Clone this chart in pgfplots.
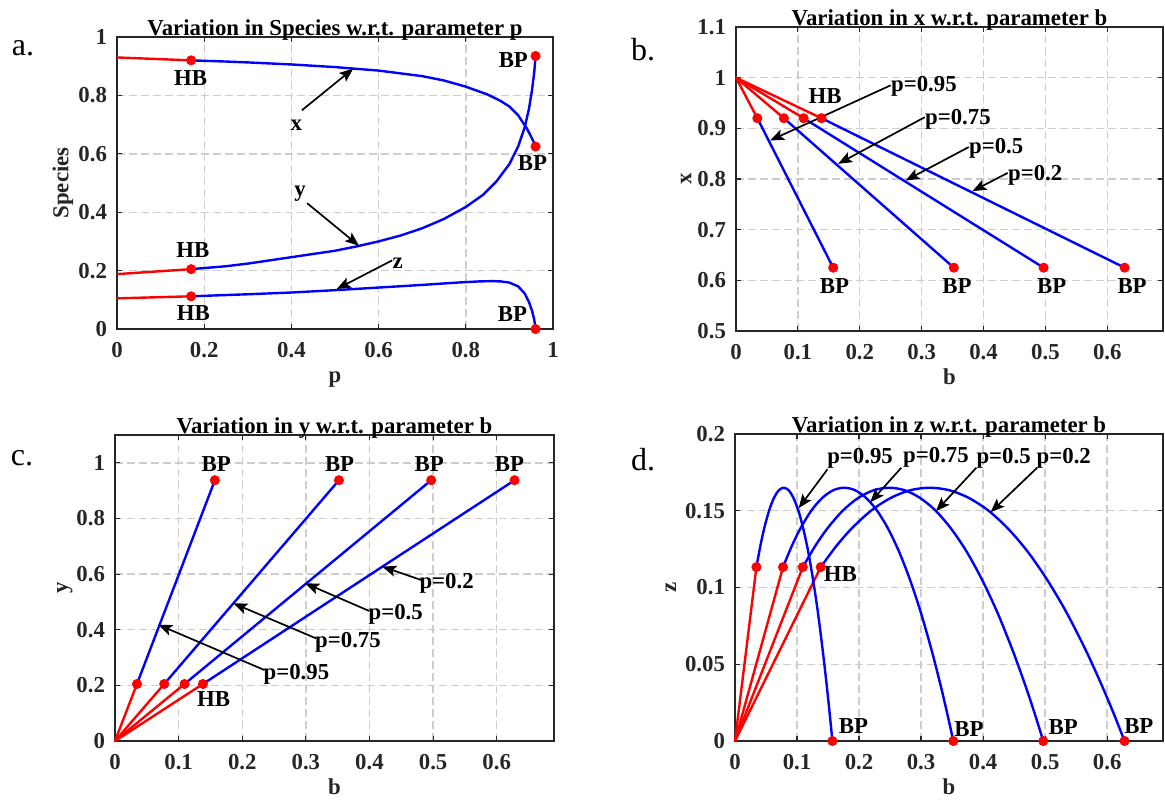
\documentclass[border=0pt]{standalone}
\usepackage{fontspec}
\setmainfont{Liberation Serif}
\usepackage{pgfplots}
\pgfplotsset{compat=1.18}
\usetikzlibrary{arrows.meta}

\definecolor{axgray}{RGB}{38,38,38}
\definecolor{gridgray}{RGB}{205,205,205}
\definecolor{mblue}{RGB}{0,0,255}
\definecolor{mred}{RGB}{255,0,0}

\newcommand{\fs}{\fontsize{11.4}{13}\selectfont\bfseries}

\pgfplotsset{
  matstyle/.style={
    scale only axis, clip=false,
    axis line style={line width=1.1pt, axgray},
    tick style={line width=0.6pt, axgray},
    major tick length=2.5pt,
    tick align=inside,
    xtick pos=both, ytick pos=both,
    grid=major,
    major grid style={line width=0.7pt, gridgray, dash pattern=on 4pt off 2pt},
    scaled ticks=false,
    tick label style={font=\fs, text=axgray, /pgf/number format/fixed},
    xticklabel style={yshift=-3pt},
    yticklabel style={xshift=-1.5pt},
    label style={font=\fs, text=axgray},
    xlabel style={at={(axis description cs:0.5,0)}, anchor=base, yshift=-26.5pt},
    every axis title shift=0pt,
    title style={font=\fs, at={(axis description cs:0.5,1)}, anchor=base, yshift=1pt},
    /pgf/number format/assume math mode=true,
  },
  bl/.style={mblue, line width=1.2pt, no marks},
  rd/.style={mred, line width=1.2pt, no marks},
  pts/.style={only marks, mark=*, mark size=2.3pt, mark options={fill=mred, draw=mred}},
}
\tikzset{
  arr/.style={-{Stealth[length=7pt,width=5.5pt,inset=1.5pt]}, line width=0.85pt, black},
  lab/.style={font=\fs, inner sep=0pt, text=black},
}

\begin{document}
\begin{tikzpicture}
\useasboundingbox (0,0) rectangle (582.5pt,-399.5pt);

% ---------------- a ----------------
\begin{axis}[matstyle, at={(58.5pt,-164.5pt)}, anchor=south west,
  width=218pt, height=146pt,
  xmin=0, xmax=1, ymin=0, ymax=1,
  xtick={0,0.2,0.4,0.6,0.8,1}, ytick={0,0.2,0.4,0.6,0.8,1},
  title={Variation in Species w.r.t. parameter p},
  xlabel={p}, ylabel={Species},
  ylabel style={at={(axis description cs:-0.124,0.5)}, anchor=center}]
\addplot[rd] coordinates {(0,0.93)(0.17,0.92)};
\addplot[bl] coordinates {(0.17,0.92)(0.25,0.916)(0.3,0.913)(0.4,0.906)(0.5,0.897)(0.6,0.885)(0.7,0.866)(0.75,0.851)(0.8,0.83)(0.85,0.803)(0.88,0.781)(0.9,0.762)(0.92,0.732)(0.94,0.687)(0.95,0.658)(0.955,0.643)(0.96,0.625)};
\addplot[rd] coordinates {(0,0.188)(0.17,0.205)};
\addplot[bl] coordinates {(0.17,0.205)(0.25,0.215)(0.3,0.224)(0.4,0.246)(0.5,0.268)(0.55,0.283)(0.6,0.3)(0.65,0.32)(0.7,0.345)(0.75,0.377)(0.8,0.418)(0.84,0.46)(0.87,0.505)(0.9,0.565)(0.92,0.625)(0.935,0.69)(0.945,0.755)(0.952,0.82)(0.957,0.88)(0.96,0.935)};
\addplot[rd] coordinates {(0,0.105)(0.17,0.112)};
\addplot[bl] coordinates {(0.17,0.112)(0.3,0.119)(0.4,0.125)(0.5,0.133)(0.6,0.142)(0.7,0.151)(0.78,0.159)(0.83,0.163)(0.86,0.164)(0.88,0.163)(0.9,0.159)(0.92,0.146)(0.935,0.122)(0.945,0.092)(0.952,0.062)(0.957,0.032)(0.96,0)};
\addplot[pts] coordinates {(0.17,0.92)(0.17,0.205)(0.17,0.112)(0.96,0.935)(0.96,0.625)(0.96,0)};
\node[lab] at (axis cs:0.169,0.861) {HB};
\node[lab] at (axis cs:0.174,0.269) {HB};
\node[lab] at (axis cs:0.175,0.055) {HB};
\node[lab] at (axis cs:0.909,0.922) {BP};
\node[lab] at (axis cs:0.953,0.568) {BP};
\node[lab] at (axis cs:0.907,0.051) {BP};
\node[lab] at (axis cs:0.411,0.698) {x};
\node[lab] at (axis cs:0.42,0.462) {y};
\node[lab] at (axis cs:0.644,0.226) {z};
\draw[arr] (axis cs:0.424,0.749) -- (axis cs:0.542,0.892);
\draw[arr] (axis cs:0.436,0.431) -- (axis cs:0.555,0.285);
\draw[arr] (axis cs:0.631,0.235) -- (axis cs:0.504,0.137);
\end{axis}

% ---------------- b ----------------
\begin{axis}[matstyle, at={(368pt,-165.5pt)}, anchor=south west,
  width=213.5pt, height=152pt,
  xmin=0, xmax=0.69, ymin=0.5, ymax=1.1,
  xtick={0,0.1,0.2,0.3,0.4,0.5,0.6}, ytick={0.5,0.6,0.7,0.8,0.9,1,1.1},
  title={Variation in x w.r.t. parameter b},
  xlabel={b}, ylabel={x},
  ylabel style={at={(axis description cs:-0.117,0.5)}, anchor=center}]
\addplot[rd] coordinates {(0,1)(0.0345,0.92)};
\addplot[rd] coordinates {(0,1)(0.0774,0.92)};
\addplot[rd] coordinates {(0,1)(0.1093,0.92)};
\addplot[rd] coordinates {(0,1)(0.1382,0.92)};
\addplot[bl] coordinates {(0.0345,0.92)(0.157,0.625)};
\addplot[bl] coordinates {(0.0774,0.92)(0.352,0.625)};
\addplot[bl] coordinates {(0.1093,0.92)(0.497,0.625)};
\addplot[bl] coordinates {(0.1382,0.92)(0.628,0.625)};
\addplot[pts] coordinates {(0.0345,0.92)(0.0774,0.92)(0.1093,0.92)(0.1382,0.92)(0.157,0.625)(0.352,0.625)(0.497,0.625)(0.628,0.625)};
\node[lab] at (axis cs:0.144,0.963) {HB};
\node[lab] at (axis cs:0.159,0.588) {BP};
\node[lab] at (axis cs:0.357,0.588) {BP};
\node[lab] at (axis cs:0.51,0.588) {BP};
\node[lab] at (axis cs:0.64,0.588) {BP};
\node[lab, anchor=west] at (axis cs:0.25,0.982) {p=0.95};
\node[lab, anchor=west] at (axis cs:0.305,0.918) {p=0.75};
\node[lab, anchor=west] at (axis cs:0.376,0.86) {p=0.5};
\node[lab, anchor=west] at (axis cs:0.439,0.808) {p=0.2};
\draw[arr] (axis cs:0.25,0.985) -- (axis cs:0.055,0.876);
\draw[arr] (axis cs:0.305,0.922) -- (axis cs:0.165,0.83);
\draw[arr] (axis cs:0.376,0.863) -- (axis cs:0.274,0.797);
\draw[arr] (axis cs:0.439,0.812) -- (axis cs:0.382,0.776);
\end{axis}

% ---------------- c ----------------
\begin{axis}[matstyle, at={(57.5pt,-370.5pt)}, anchor=south west,
  width=219.5pt, height=153pt,
  xmin=0, xmax=0.69, ymin=0, ymax=1.1,
  xtick={0,0.1,0.2,0.3,0.4,0.5,0.6}, ytick={0,0.2,0.4,0.6,0.8,1},
  title={Variation in y w.r.t. parameter b},
  xlabel={b}, ylabel={y},
  ylabel style={at={(axis description cs:-0.114,0.5)}, anchor=center}]
\addplot[rd] coordinates {(0,0)(0.0345,0.205)};
\addplot[rd] coordinates {(0,0)(0.0774,0.205)};
\addplot[rd] coordinates {(0,0)(0.1093,0.205)};
\addplot[rd] coordinates {(0,0)(0.1382,0.205)};
\addplot[bl] coordinates {(0.0345,0.205)(0.157,0.9375)};
\addplot[bl] coordinates {(0.0774,0.205)(0.352,0.9375)};
\addplot[bl] coordinates {(0.1093,0.205)(0.497,0.9375)};
\addplot[bl] coordinates {(0.1382,0.205)(0.628,0.9375)};
\addplot[pts] coordinates {(0.0345,0.205)(0.0774,0.205)(0.1093,0.205)(0.1382,0.205)(0.157,0.9375)(0.352,0.9375)(0.497,0.9375)(0.628,0.9375)};
\node[lab] at (axis cs:0.155,0.15) {HB};
\node[lab] at (axis cs:0.159,0.994) {BP};
\node[lab] at (axis cs:0.353,0.994) {BP};
\node[lab] at (axis cs:0.494,0.994) {BP};
\node[lab] at (axis cs:0.62,0.994) {BP};
\node[lab, anchor=west] at (axis cs:0.478,0.567) {p=0.2};
\node[lab, anchor=west] at (axis cs:0.398,0.455) {p=0.5};
\node[lab, anchor=west] at (axis cs:0.314,0.353) {p=0.75};
\node[lab, anchor=west] at (axis cs:0.233,0.24) {p=0.95};
\draw[arr] (axis cs:0.481,0.579) -- (axis cs:0.42,0.627);
\draw[arr] (axis cs:0.4,0.467) -- (axis cs:0.299,0.567);
\draw[arr] (axis cs:0.316,0.369) -- (axis cs:0.186,0.495);
\draw[arr] (axis cs:0.235,0.255) -- (axis cs:0.068,0.418);
\end{axis}

% ---------------- d ----------------
\begin{axis}[matstyle, at={(367.5pt,-370.5pt)}, anchor=south west,
  width=214pt, height=153.5pt,
  xmin=0, xmax=0.69, ymin=0, ymax=0.2,
  xtick={0,0.1,0.2,0.3,0.4,0.5,0.6}, ytick={0,0.05,0.1,0.15,0.2},
  title={Variation in z w.r.t. parameter b},
  xlabel={b}, ylabel={z},
  ylabel style={at={(axis description cs:-0.15,0.5)}, anchor=center}]
\addplot[rd] coordinates {(0,0)(0.0345,0.1133)};
\addplot[rd] coordinates {(0,0)(0.0774,0.1133)};
\addplot[rd] coordinates {(0,0)(0.1093,0.1133)};
\addplot[rd] coordinates {(0,0)(0.1382,0.1133)};
\addplot[bl, smooth] coordinates {(0.0345,0.1133)(0.0408,0.1270)(0.0471,0.1386)(0.0550,0.1502)(0.0628,0.1584)(0.0707,0.1634)(0.0785,0.165)(0.0864,0.1634)(0.0942,0.1584)(0.1021,0.1502)(0.1099,0.1386)(0.1178,0.1238)(0.1256,0.1056)(0.1335,0.0842)(0.1413,0.0594)(0.1476,0.0372)(0.1523,0.0192)(0.157,0)};
\addplot[bl, smooth] coordinates {(0.0774,0.1133)(0.0915,0.1270)(0.1056,0.1386)(0.1232,0.1502)(0.1408,0.1584)(0.1584,0.1634)(0.176,0.165)(0.1936,0.1634)(0.2112,0.1584)(0.2288,0.1502)(0.2464,0.1386)(0.264,0.1238)(0.2816,0.1056)(0.2992,0.0842)(0.3168,0.0594)(0.3309,0.0372)(0.3414,0.0192)(0.352,0)};
\addplot[bl, smooth] coordinates {(0.1093,0.1133)(0.1292,0.1270)(0.1491,0.1386)(0.1740,0.1502)(0.1988,0.1584)(0.2237,0.1634)(0.2485,0.165)(0.2734,0.1634)(0.2982,0.1584)(0.3231,0.1502)(0.3479,0.1386)(0.3728,0.1238)(0.3976,0.1056)(0.4225,0.0842)(0.4473,0.0594)(0.4672,0.0372)(0.4821,0.0192)(0.497,0)};
\addplot[bl, smooth] coordinates {(0.1382,0.1133)(0.1633,0.1270)(0.1884,0.1386)(0.2198,0.1502)(0.2512,0.1584)(0.2826,0.1634)(0.314,0.165)(0.3454,0.1634)(0.3768,0.1584)(0.4082,0.1502)(0.4396,0.1386)(0.471,0.1238)(0.5024,0.1056)(0.5338,0.0842)(0.5652,0.0594)(0.5903,0.0372)(0.6092,0.0192)(0.628,0)};
\addplot[pts] coordinates {(0.0345,0.1133)(0.0774,0.1133)(0.1093,0.1133)(0.1382,0.1133)(0.157,0)(0.352,0)(0.497,0)(0.628,0)};
\node[lab] at (axis cs:0.17,0.109) {HB};
\node[lab] at (axis cs:0.191,0.0096) {BP};
\node[lab] at (axis cs:0.377,0.008) {BP};
\node[lab] at (axis cs:0.529,0.009) {BP};
\node[lab] at (axis cs:0.651,0.0096) {BP};
\node[lab] at (axis cs:0.2016,0.184) {p=0.95};
\node[lab] at (axis cs:0.324,0.185) {p=0.75};
\node[lab] at (axis cs:0.433,0.184) {p=0.5};
\node[lab] at (axis cs:0.53,0.184) {p=0.2};
\draw[arr] (axis cs:0.149,0.177) -- (axis cs:0.1026,0.1517);
\draw[arr] (axis cs:0.268,0.178) -- (axis cs:0.218,0.1555);
\draw[arr] (axis cs:0.389,0.178) -- (axis cs:0.324,0.1497);
\draw[arr] (axis cs:0.487,0.178) -- (axis cs:0.412,0.149);
\end{axis}

\node[font=\fontsize{16}{18}\selectfont] at (11.5pt,-24pt) {a.};
\node[font=\fontsize{16}{18}\selectfont] at (321.5pt,-25pt) {b.};
\node[font=\fontsize{16}{18}\selectfont] at (11pt,-229pt) {c.};
\node[font=\fontsize{16}{18}\selectfont] at (321.5pt,-230pt) {d.};
\end{tikzpicture}
\end{document}
